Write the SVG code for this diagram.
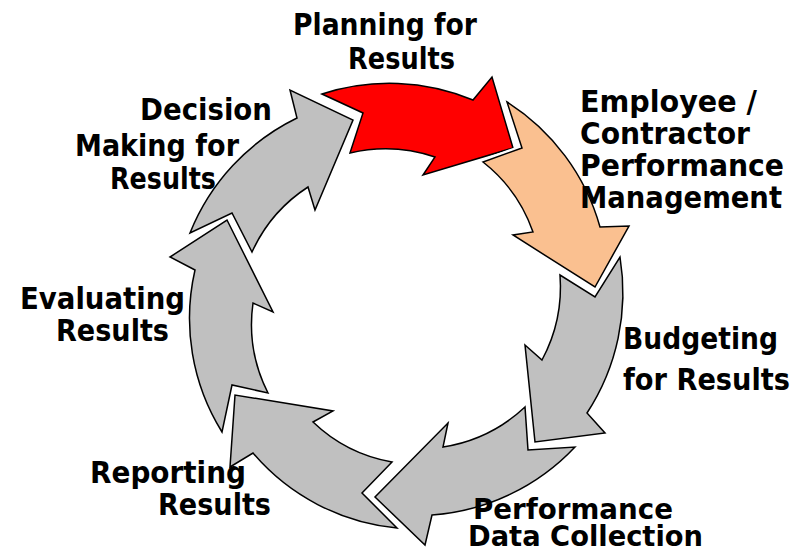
<svg xmlns="http://www.w3.org/2000/svg" xmlns:xlink="http://www.w3.org/1999/xlink" width="809" height="552" viewBox="0 0 809 552">
<style>
.halo{fill:#fff;stroke:#fff;stroke-width:6;stroke-linejoin:miter}
.arr{stroke:#000;stroke-width:1.5;stroke-linejoin:miter}
.red{fill:#FF0000}
.peach{fill:#FAC090}
.gray{fill:#C0C0C0}
text{font-family:"DejaVu Sans",Verdana,sans-serif;font-weight:bold;font-size:30px;fill:#000}
.tight{font-size:28px}
</style>
<defs>
<path id="a1" d="M322,94 A217,217 0 0 1 473,100 L492,77 L513,148 L423,175 L435,157 A155,155 0 0 0 350,153 L363,113 Z"/>
<path id="a2" d="M507,102 A218,218 0 0 1 600,227 L629,226 L595,287 L513,235 L533,232 A153,153 0 0 0 483,162 L522,148 Z"/>
<path id="a3" d="M620,257 A220,220 0 0 1 587,413 L605,433 L535,442 L525,345 L542,360 A155,155 0 0 0 560,275 L595,297 Z"/>
<path id="a4" d="M575,447 A218,218 0 0 1 432,515 L425,545 L375,497 L448,423 L443,447 A155,155 0 0 0 525,407 L528,450 Z"/>
<path id="a5" d="M397,528 A216,216 0 0 1 253,453 L230,467 L235,395 L333,411 L313,422 A152,152 0 0 0 392,462 L362,493 Z"/>
<path id="a6" d="M222,432 A215,215 0 0 1 195,270 L170,257 L227,220 L273,312 L253,303 A152,152 0 0 0 268,393 L232,385 Z"/>
<path id="a7" d="M190,233 A218,218 0 0 1 297,118 L290,90 L353,120 L315,210 L308,187 A153,153 0 0 0 252,252 L232,213 Z"/>
</defs>
<rect width="809" height="552" fill="#fff"/>
<g id="connectors"></g>
<g id="arrows">
<g id="arrow-planning"><use xlink:href="#a1" class="halo"/><use xlink:href="#a1" class="arr red"/></g>
<g id="arrow-employee"><use xlink:href="#a2" class="halo"/><use xlink:href="#a2" class="arr peach"/></g>
<g id="arrow-budgeting"><use xlink:href="#a3" class="halo"/><use xlink:href="#a3" class="arr gray"/></g>
<g id="arrow-data"><use xlink:href="#a4" class="halo"/><use xlink:href="#a4" class="arr gray"/></g>
<g id="arrow-reporting"><use xlink:href="#a5" class="halo"/><use xlink:href="#a5" class="arr gray"/></g>
<g id="arrow-evaluating"><use xlink:href="#a6" class="halo"/><use xlink:href="#a6" class="arr gray"/></g>
<g id="arrow-decision"><use xlink:href="#a7" class="halo"/><use xlink:href="#a7" class="arr gray"/></g>
</g>
<g id="node-planning">
<text x="293" y="35" textLength="184" lengthAdjust="spacingAndGlyphs">Planning for</text>
<text x="348" y="69" textLength="107" lengthAdjust="spacingAndGlyphs">Results</text>
</g>
<g id="node-employee">
<text x="580" y="112" textLength="177" lengthAdjust="spacingAndGlyphs">Employee /</text>
<text x="580" y="144" textLength="170" lengthAdjust="spacingAndGlyphs">Contractor</text>
<text x="580" y="176" textLength="204" lengthAdjust="spacingAndGlyphs">Performance</text>
<text x="580" y="208" textLength="202" lengthAdjust="spacingAndGlyphs">Management</text>
</g>
<g id="node-budgeting">
<text x="623" y="349" textLength="155" lengthAdjust="spacingAndGlyphs">Budgeting</text>
<text x="623" y="390" textLength="167" lengthAdjust="spacingAndGlyphs">for Results</text>
</g>
<g id="node-data">
<text class="tight" x="473" y="519" textLength="200" lengthAdjust="spacingAndGlyphs">Performance</text>
<text class="tight" x="468" y="546" textLength="235" lengthAdjust="spacingAndGlyphs">Data Collection</text>
</g>
<g id="node-reporting">
<text x="90" y="483" textLength="156" lengthAdjust="spacingAndGlyphs">Reporting</text>
<text x="158" y="515" textLength="113" lengthAdjust="spacingAndGlyphs">Results</text>
</g>
<g id="node-evaluating">
<text x="20" y="309" textLength="165" lengthAdjust="spacingAndGlyphs">Evaluating</text>
<text x="56" y="341" textLength="113" lengthAdjust="spacingAndGlyphs">Results</text>
</g>
<g id="node-decision">
<text x="140" y="120" textLength="132" lengthAdjust="spacingAndGlyphs">Decision</text>
<text x="75" y="156" textLength="164" lengthAdjust="spacingAndGlyphs">Making for</text>
<text x="110" y="189" textLength="106" lengthAdjust="spacingAndGlyphs">Results</text>
</g>
</svg>
